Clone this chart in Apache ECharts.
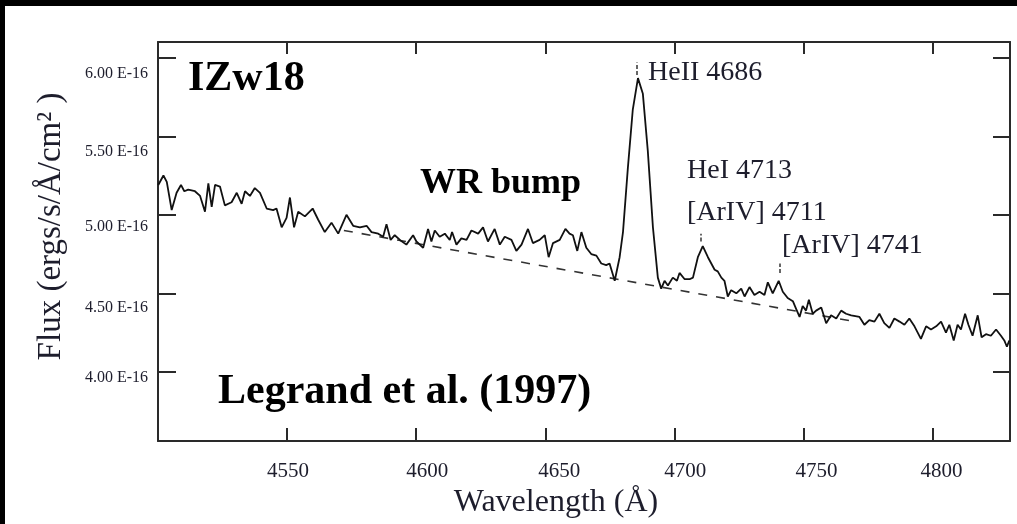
<!DOCTYPE html>
<html>
<head>
<meta charset="utf-8">
<script src="https://cdn.jsdelivr.net/npm/echarts@6/dist/echarts.min.js"></script>
<style>
html,body{margin:0;padding:0;background:#000;}
#wrap{position:relative;width:1017px;height:524px;background:#000;overflow:hidden;}
#paper{position:absolute;left:5px;top:6px;right:0;bottom:0;background:#fff;}
#chart{position:absolute;left:0;top:0;width:1017px;height:524px;}
</style>
</head>
<body>
<div id="wrap"><div id="paper"></div><div id="chart"></div></div>
<script>
// ---- data (flux in units of 1E-16 ergs/s/Å/cm²) ----
const wavelength = [
4500.1,4502.1,4503.4,4505.3,4507.2,4508.9,4510.2,4511.7,4514.3,4516.3,4518.2,4519.5,4520.8,4522.1,4524.0,4525.9,4528.5,4530.5,4532.4,4533.7,
4535.6,4537.5,4539.5,4542.1,4544.6,4545.9,4547.9,4549.8,4551.1,4552.7,4554.3,4556.9,4559.9,4562.0,4564.6,4567.2,4569.8,4573.0,4575.6,4578.2,
4580.8,4582.7,4585.3,4587.2,4588.5,4590.1,4591.7,4593.7,4596.2,4598.8,4600.1,4602.7,4604.6,4605.9,4607.2,4609.1,4611.1,4613.0,4613.9,4615.6,
4617.5,4619.5,4621.4,4624.0,4625.9,4627.8,4630.4,4632.4,4634.3,4636.9,4638.8,4640.8,4643.3,4645.2,4647.8,4649.8,4651.3,4653.0,4655.6,4657.8,
4659.4,4660.7,4662.4,4664.0,4665.9,4667.8,4669.8,4671.7,4673.6,4674.9,4676.9,4678.8,4680.1,4682.0,4683.9,4685.9,4687.8,4689.7,4691.7,4693.6,
4694.9,4696.2,4697.5,4699.4,4701.0,4702.0,4704.0,4705.9,4707.2,4709.1,4711.0,4713.0,4715.6,4716.8,4718.2,4719.4,4720.7,4722.0,4724.0,4725.9,
4727.2,4729.1,4731.0,4733.0,4734.9,4736.2,4738.1,4740.4,4742.0,4743.9,4745.9,4747.2,4748.5,4749.7,4751.0,4752.1,4753.6,4754.9,4756.9,4758.8,
4760.7,4762.7,4764.6,4766.5,4768.5,4771.7,4773.6,4775.5,4777.5,4779.4,4781.3,4783.3,4785.2,4787.2,4789.1,4791.0,4793.0,4795.5,4797.5,4799.4,
4801.4,4803.3,4805.2,4806.5,4808.2,4809.7,4811.0,4812.6,4813.9,4815.5,4817.5,4819.0,4820.7,4822.6,4824.6,4826.5,4827.8,4828.8,4829.7
];
const flux = [
5.19,5.25,5.21,5.03,5.14,5.19,5.15,5.16,5.15,5.12,5.02,5.20,5.05,5.19,5.18,5.06,5.08,5.14,5.07,5.15,
5.12,5.17,5.14,5.04,5.03,5.04,4.92,4.98,5.11,4.92,5.02,4.99,5.04,4.97,4.89,4.95,4.88,5.00,4.93,4.92,
4.93,4.89,4.88,4.86,4.94,4.84,4.87,4.84,4.81,4.87,4.83,4.79,4.91,4.83,4.90,4.86,4.88,4.84,4.89,4.81,
4.85,4.84,4.90,4.88,4.92,4.83,4.91,4.81,4.86,4.84,4.77,4.81,4.91,4.82,4.84,4.87,4.73,4.82,4.84,4.91,
4.88,4.87,4.77,4.89,4.79,4.75,4.74,4.69,4.68,4.69,4.58,4.73,4.89,5.30,5.67,5.87,5.77,5.41,4.92,4.60,
4.53,4.58,4.55,4.60,4.58,4.63,4.59,4.59,4.60,4.73,4.80,4.73,4.65,4.64,4.60,4.58,4.48,4.52,4.50,4.53,
4.48,4.54,4.49,4.51,4.49,4.57,4.50,4.58,4.51,4.47,4.45,4.40,4.35,4.42,4.39,4.46,4.37,4.39,4.41,4.31,
4.36,4.34,4.39,4.37,4.36,4.35,4.30,4.33,4.32,4.37,4.31,4.28,4.34,4.32,4.30,4.34,4.29,4.21,4.29,4.27,
4.29,4.32,4.25,4.30,4.20,4.30,4.27,4.37,4.30,4.23,4.36,4.22,4.24,4.23,4.27,4.23,4.20,4.16,4.20
];
const continuumWl = [4572, 4770];
const continuumFlux = [4.90, 4.32];
const xTicks = [4550, 4600, 4650, 4700, 4750, 4800];
const yTicks = [4.0, 4.5, 5.0, 5.5, 6.0];
const lineIdText = ['HeII 4686', 'HeI 4713', '[ArIV] 4711', '[ArIV] 4741'];
const lineIdWl = [4689.6, 4704.7, 4704.7, 4741.5];
const lineIdFlux = [5.906, 5.283, 5.016, 4.806];
const markerWl = [4685.5, 4710.4, 4740.7];
const markerLow = [5.89, 4.83, 4.63];
const markerHigh = [5.97, 4.88, 4.69];
const annotations = ['IZw18', 'WR bump', 'Legrand et al. (1997)'];
const xName = 'Wavelength (Å)';
const yName = 'Flux (ergs/s/Å/cm² )';

// ---- chart ----
const SERIF = "'Liberation Serif','Times New Roman',serif";
const INK = '#1d1d2c';
const AXIS = '#2a2a2a';
const chart = echarts.init(document.getElementById('chart'), null, {renderer: 'canvas'});

const xShift = {4550: 1, 4600: 11, 4650: 14, 4700: 11, 4750: 13, 4800: 9};
const yShift = {'4.00': 6, '4.50': 14, '5.00': 12, '5.50': 16, '6.00': 16};
const xRich = {}, yRich = {};
xTicks.forEach(t => { xRich['x' + t] = {padding: [0, 0, 0, 2 * xShift[t]], fontFamily: SERIF, fontSize: 21, color: INK}; });
yTicks.forEach((t, i) => { yRich['y' + i] = {padding: [2 * yShift[t.toFixed(2)], 0, 0, 0], fontFamily: SERIF, fontSize: 16, color: INK}; });

const option = {
  animation: false,
  backgroundColor: 'transparent',
  grid: {left: 158, right: 7, top: 42, bottom: 83, containLabel: false},
  xAxis: [{
    type: 'value', position: 'bottom', min: 4500, max: 4830,
    axisLine: {show: true, onZero: false, lineStyle: {color: AXIS, width: 2}},
    axisTick: {show: true, inside: true, length: 13, customValues: xTicks, lineStyle: {color: AXIS, width: 2}},
    axisLabel: {show: true, customValues: xTicks, margin: 20,
      formatter: v => '{x' + v + '|' + v + '}', rich: xRich},
    splitLine: {show: false},
    name: xName, nameLocation: 'middle', nameGap: 45,
    nameTextStyle: {fontFamily: SERIF, fontSize: 32, color: INK, padding: [0, 56, 0, 0]}
  }, {
    type: 'value', position: 'top', min: 4500, max: 4830,
    axisLine: {show: true, onZero: false, lineStyle: {color: AXIS, width: 2}},
    axisTick: {show: true, inside: true, length: 12, customValues: xTicks, lineStyle: {color: AXIS, width: 2}},
    axisLabel: {show: false}, splitLine: {show: false}
  }],
  yAxis: [{
    type: 'value', position: 'left', min: 3.56, max: 6.10,
    axisLine: {show: true, onZero: false, lineStyle: {color: AXIS, width: 2}},
    axisTick: {show: true, inside: true, length: 18, customValues: yTicks, lineStyle: {color: AXIS, width: 2}},
    axisLabel: {show: true, customValues: yTicks, margin: 10,
      formatter: v => { const i = yTicks.findIndex(t => Math.abs(t - v) < 1e-6); return '{y' + i + '|' + v.toFixed(2) + ' E-16}'; },
      rich: yRich},
    splitLine: {show: false},
    name: yName, nameLocation: 'middle', nameGap: 90,
    nameTextStyle: {fontFamily: SERIF, fontSize: 33, color: INK, padding: [0, 0, 0, 30]}
  }, {
    type: 'value', position: 'right', min: 3.56, max: 6.10,
    axisLine: {show: true, onZero: false, lineStyle: {color: AXIS, width: 2}},
    axisTick: {show: true, inside: true, length: 17, customValues: yTicks, lineStyle: {color: AXIS, width: 2}},
    axisLabel: {show: false}, splitLine: {show: false}
  }],
  series: [{
    name: 'spectrum', type: 'line', xAxisIndex: 0, yAxisIndex: 0,
    data: wavelength.map((w, i) => [w, flux[i]]),
    showSymbol: false, symbol: 'none', smooth: false,
    lineStyle: {color: '#111', width: 1.8}, z: 4
  }, {
    name: 'continuum', type: 'line', xAxisIndex: 0, yAxisIndex: 0,
    data: continuumWl.map((w, i) => [w, continuumFlux[i]]),
    showSymbol: false, symbol: 'none',
    lineStyle: {color: '#333', width: 1.6, type: [9, 9]}, z: 3
  }, {
    name: 'markers', type: 'lines', coordinateSystem: 'cartesian2d', xAxisIndex: 0, yAxisIndex: 0,
    data: markerWl.map((w, i) => ({coords: [[w, markerLow[i]], [w, markerHigh[i]]]})),
    lineStyle: {color: '#666', width: 2, type: [4, 2], opacity: 1}, symbol: 'none', z: 3
  }, {
    name: 'lineIds', type: 'scatter', xAxisIndex: 0, yAxisIndex: 0,
    data: lineIdWl.map((w, i) => ({value: [w, lineIdFlux[i]], name: lineIdText[i]})),
    symbol: 'circle', symbolSize: 1, itemStyle: {color: 'rgba(0,0,0,0)', opacity: 1},
    label: {show: true, position: 'right', distance: 0, formatter: p => p.name,
      fontFamily: SERIF, fontSize: 28, color: INK, opacity: 1},
    labelLayout: {hideOverlap: false},
    z: 5, silent: true
  }],
  graphic: [
    {type: 'text', x: 188, y: 79, style: {text: annotations[0], font: "bold 42px " + SERIF, fill: '#000', align: 'left', verticalAlign: 'middle'}},
    {type: 'text', x: 420, y: 184, style: {text: annotations[1], font: "bold 36px " + SERIF, fill: '#000', align: 'left', verticalAlign: 'middle'}},
    {type: 'text', x: 218, y: 392, style: {text: annotations[2], font: "bold 42px " + SERIF, fill: '#000', align: 'left', verticalAlign: 'middle'}}
  ]
};
chart.setOption(option);
</script>
</body>
</html>
